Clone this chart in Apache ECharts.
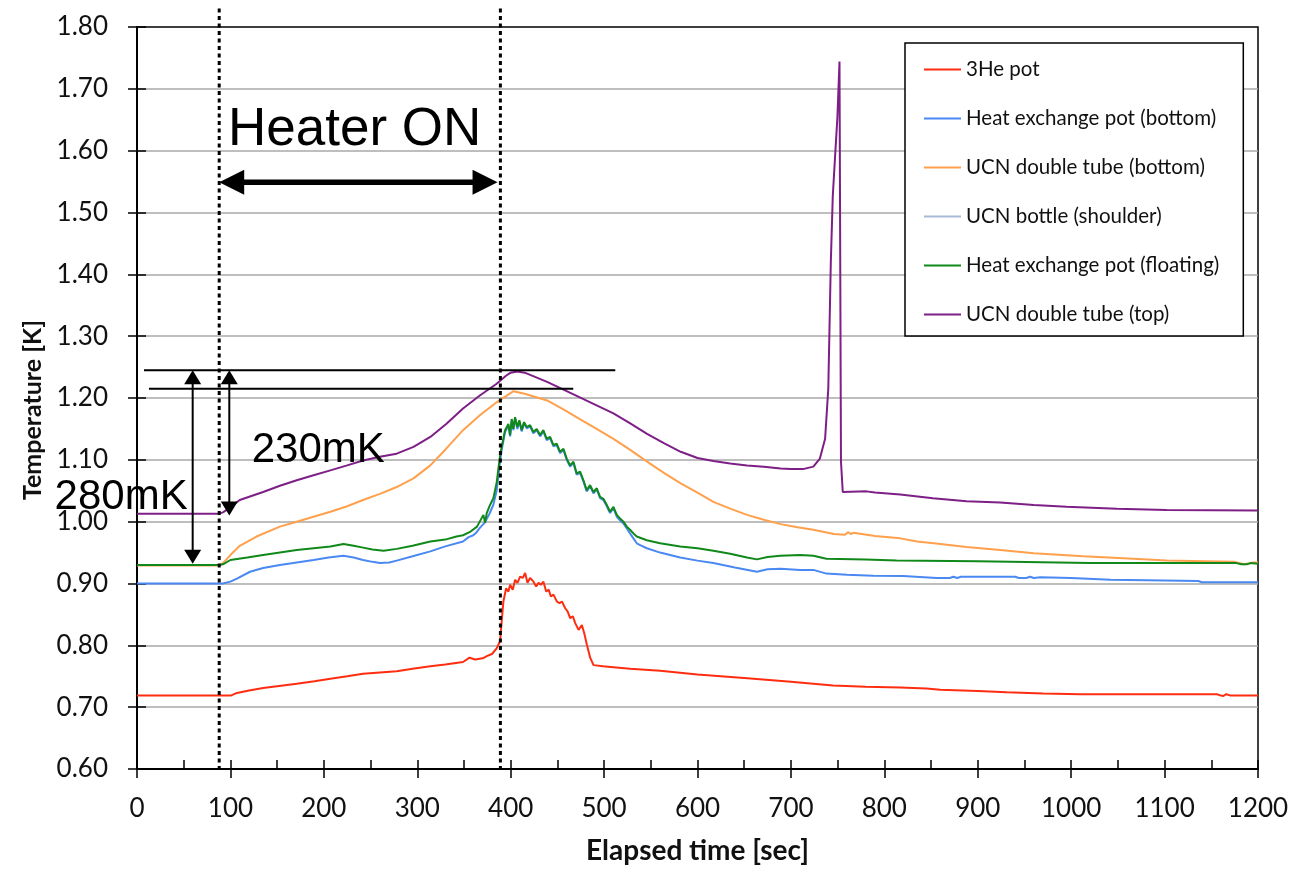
<!DOCTYPE html>
<html>
<head>
<meta charset="utf-8">
<script src="https://cdn.jsdelivr.net/npm/echarts@6/dist/echarts.min.js"></script>
<style>
  html, body { margin: 0; padding: 0; background: #fff; }
  #chart { width: 1314px; height: 870px; }
</style>
</head>
<body>
<div id="chart"></div>
<script>
// ---- Axis ranges and labels ----
const xRange = [0, 1200];
const xStep = 100;
const yRange = [0.6, 1.8];
const yStep = 0.1;
const xTitle = 'Elapsed time [sec]';
const yTitle = 'Temperature [K]';

// ---- Sensor names (legend order) ----
const seriesNames = [
  '3He pot',
  'Heat exchange pot (bottom)',
  'UCN double tube (bottom)',
  'UCN bottle (shoulder)',
  'Heat exchange pot (floating)',
  'UCN double tube (top)'
];

// ---- Temperature readings: [elapsed sec, K] ----
const he3Pot = [
  [0,0.719],[88,0.719],[101,0.719],[107,0.723],[120,0.727],[135,0.731],[150,0.734],[171,0.738],
  [190,0.742],[207,0.746],[225,0.750],[242,0.754],[260,0.756],[278,0.758],[295,0.762],[314,0.766],
  [330,0.769],[349,0.773],[356,0.780],[362,0.777],[370,0.779],[375,0.783],[380,0.786],[385,0.795],
  [388.7,0.807],[390.4,0.839],[392.2,0.871],[395.1,0.892],[397.6,0.887],[399.4,0.898],[402.2,0.890],
  [404.8,0.906],[407.3,0.901],[410.1,0.911],[413,0.909],[415.5,0.917],[418,0.901],[420.8,0.909],
  [424.4,0.903],[427.3,0.895],[429.8,0.901],[432.3,0.898],[435.1,0.903],[438,0.887],[440.8,0.890],
  [443,0.879],[445.8,0.882],[449.4,0.871],[452.3,0.868],[454.8,0.871],[458.4,0.860],[460.9,0.855],
  [463.7,0.844],[466.6,0.847],[469.1,0.836],[472.7,0.825],[476.2,0.833],[478.7,0.820],[481.6,0.801],
  [485.1,0.780],[488.7,0.768],[499,0.766],[507,0.765],[528,0.762],[560,0.759],[600,0.753],
  [650,0.747],[700,0.741],[745,0.735],[780,0.733],[817,0.732],[845,0.730],[860,0.728],[900,0.726],
  [931,0.724],[970,0.722],[1010,0.721],[1156,0.721],[1160,0.719],[1163,0.718],[1166,0.721],
  [1170,0.719],[1200,0.719]
];

const hxPotBottom = [
  [0,0.900],[88,0.900],[92,0.900],[100,0.903],[107,0.908],[121,0.919],[135,0.925],[153,0.930],
  [171,0.934],[189,0.938],[205,0.942],[221,0.945],[232,0.942],[242,0.938],[252,0.935],[260,0.933],
  [270,0.934],[278,0.937],[295,0.944],[314,0.952],[330,0.960],[349,0.968],[355,0.975],[360,0.978],
  [363,0.982],[367,0.990],[372,0.998],[377,1.012],[381.4,1.027],[385,1.050],[388.6,1.097],
  [390.4,1.116],[394,1.145],[397.6,1.155],[399.4,1.138],[401.1,1.163],[402.9,1.148],[404.7,1.167],
  [407.2,1.150],[409.3,1.162],[411.8,1.146],[414.3,1.159],[417.2,1.151],[420.8,1.154],[424.3,1.143],
  [427.9,1.148],[431.5,1.138],[435,1.146],[438.6,1.132],[442.2,1.135],[445.7,1.122],[449.3,1.124],
  [452.9,1.111],[456.5,1.116],[460,1.100],[463.6,1.089],[467.2,1.095],[470.7,1.076],[474.3,1.079],
  [477.9,1.065],[481.4,1.049],[485,1.057],[488.6,1.046],[492.2,1.052],[495.7,1.038],[499.3,1.035],
  [502.9,1.025],[506.4,1.014],[510,1.022],[513.6,1.008],[517.1,1.002],[520.7,0.997],[524.3,0.989],
  [527.8,0.981],[531.4,0.973],[535,0.965],[538.6,0.962],[545.8,0.957],[560,0.950],[581.5,0.942],
  [600,0.937],[617,0.933],[640,0.926],[663.6,0.919],[675,0.923],[688.6,0.924],[710,0.922],
  [724,0.922],[738,0.916],[760,0.914],[788,0.9125],[820,0.912],[856,0.909],[870,0.909],
  [874,0.911],[878,0.909],[882,0.911],[888,0.911],[940,0.911],[944,0.909],[952,0.909],[956,0.911],
  [960,0.909],[967,0.910],[1000,0.909],[1042,0.906],[1100,0.905],[1136,0.904],[1140,0.902],
  [1200,0.902]
];

const ucnTubeBottom = [
  [0,0.929],[88,0.929],[92,0.933],[100,0.946],[110,0.961],[128,0.976],[153,0.992],[171,1.000],
  [189,1.008],[207,1.016],[225,1.025],[242,1.035],[260,1.045],[278,1.056],[296,1.070],[314,1.091],
  [331,1.118],[349,1.148],[367,1.172],[385,1.193],[395,1.203],[403,1.211],[415,1.207],[439,1.196],
  [456,1.182],[474,1.166],[492,1.150],[510,1.134],[528,1.116],[546,1.097],[564,1.079],[582,1.062],
  [600,1.047],[617,1.032],[635,1.021],[653,1.011],[671,1.003],[689,0.996],[707,0.991],[724,0.987],
  [746,0.980],[758,0.979],[761,0.983],[764,0.980],[767,0.982],[790,0.977],[817,0.973],[835,0.968],
  [853,0.965],[888,0.959],[924,0.954],[960,0.949],[1013,0.944],[1067,0.940],[1102,0.937],
  [1144,0.936],[1175,0.935],[1185,0.931],[1195,0.934],[1200,0.934]
];

const ucnBottleShoulder = [];

const hxPotFloating = [
  [0,0.930],[88,0.930],[92,0.931],[100,0.938],[118,0.942],[135,0.946],[153,0.950],[171,0.954],
  [189,0.957],[207,0.960],[221,0.964],[232,0.961],[242,0.958],[252,0.955],[264,0.953],[278,0.956],
  [295,0.961],[314,0.968],[330,0.971],[342,0.976],[349,0.978],[356,0.983],[364,0.992],[370.8,1.011],
  [372.6,0.998],[374.4,1.014],[377.9,1.027],[381.5,1.038],[385.1,1.064],[386.9,1.086],[388.7,1.107],
  [390.4,1.121],[394,1.148],[397.6,1.158],[399.4,1.140],[401.1,1.166],[402.9,1.150],[404.7,1.169],
  [407.2,1.153],[409.3,1.164],[411.8,1.148],[414.3,1.161],[417.2,1.153],[420.8,1.156],[424.3,1.145],
  [427.9,1.150],[431.5,1.140],[435,1.148],[438.6,1.134],[442.2,1.137],[445.7,1.124],[449.3,1.126],
  [452.9,1.113],[456.5,1.118],[460,1.102],[463.6,1.091],[467.2,1.097],[470.7,1.078],[474.3,1.081],
  [477.9,1.067],[481.4,1.051],[485,1.059],[488.6,1.048],[492.2,1.054],[495.7,1.040],[499.3,1.037],
  [502.9,1.027],[506.4,1.016],[510,1.024],[513.6,1.011],[517.1,1.005],[520.7,1.000],[524.3,0.992],
  [527.8,0.987],[531.4,0.981],[535,0.976],[545.8,0.970],[560,0.965],[581.5,0.960],[600,0.957],
  [617,0.953],[635,0.948],[653,0.942],[663.6,0.939],[675,0.943],[688.6,0.945],[710,0.946],
  [724,0.945],[738,0.940],[780,0.939],[813,0.937],[900,0.936],[1020,0.933],[1177,0.933],
  [1182,0.931],[1188,0.931],[1192,0.933],[1200,0.932]
];

const ucnTubeTop = [
  [0,1.013],[88,1.013],[92,1.015],[96,1.019],[110,1.035],[135,1.048],[153,1.058],[171,1.067],
  [189,1.075],[207,1.083],[225,1.091],[242,1.099],[260,1.105],[278,1.110],[296,1.121],[314,1.137],
  [331,1.158],[349,1.183],[367,1.204],[385,1.223],[395,1.236],[400,1.241],[407,1.243],[415,1.241],
  [439,1.226],[456,1.214],[474,1.201],[492,1.188],[510,1.175],[528,1.159],[546,1.142],[564,1.127],
  [582,1.113],[600,1.103],[617,1.098],[635,1.094],[653,1.091],[671,1.089],[689,1.086],[700,1.085],
  [713,1.085],[724,1.089],[731,1.102],[736.6,1.134],[740,1.215],[742.7,1.419],[744.8,1.526],
  [747.3,1.591],[749.8,1.655],[752,1.744],[753,1.745],[753.6,1.097],[755.5,1.048],[781,1.049],
  [790,1.047],[817,1.044],[852,1.038],[888,1.033],[924,1.031],[960,1.027],[995,1.024],[1049,1.021],
  [1102,1.019],[1200,1.018]
];

const seriesData = [he3Pot, hxPotBottom, ucnTubeBottom, ucnBottleShoulder, hxPotFloating, ucnTubeTop];
const seriesColors = ['#ff2d10', '#4a88f2', '#ffa04d', '#a9bad6', '#11891a', '#7d1f86'];

// ---- Annotations (data coordinates) ----
const heaterTimes = [88, 389];              // heater switched on / off
const heaterSpan = { from: 88, to: 386, level: 1.549, text: 'Heater ON', labelAt: [233, 1.633] };
const peakLevels = [                         // horizontal reference lines
  { from: 7.5, to: 512, level: 1.245 },
  { from: 12.8, to: 467, level: 1.215 }
];
const riseArrows = [
  { at: 59.6, from: 0.932, to: 1.245, text: '280mK', labelAt: [-17, 1.039] },
  { at: 98.8, from: 1.010, to: 1.245, text: '230mK', labelAt: [194, 1.115] }
];

const tickFont = { fontFamily: 'Lato', fontSize: 26, color: '#111' };

const option = {
  animation: false,
  backgroundColor: '#fff',
  grid: {
    left: 137, right: 56, top: 27, bottom: 98,
    show: true, borderColor: '#000', borderWidth: 1.5, backgroundColor: 'transparent'
  },
  legend: {
    orient: 'vertical',
    left: 905, top: 43,
    padding: [16, 24, 11, 19],
    itemGap: 28,
    itemWidth: 37,
    itemHeight: 2,
    icon: 'rect',
    backgroundColor: '#fff',
    borderColor: '#000',
    borderWidth: 1.5,
    borderRadius: 0,
    textStyle: { fontFamily: 'Lato', fontSize: 20.5, color: '#111', lineHeight: 20 },
    data: seriesNames
  },
  xAxis: [
    {
      type: 'value', min: xRange[0], max: xRange[1], interval: xStep, position: 'bottom',
      name: xTitle, nameLocation: 'middle', nameGap: 68,
      nameTextStyle: { fontFamily: 'Lato', fontWeight: 'bold', fontSize: 28, color: '#111' },
      axisLine: { show: true, onZero: false, lineStyle: { color: '#000', width: 2 } },
      axisTick: { show: true, inside: false, length: 9, lineStyle: { color: '#000', width: 1.5 } },
      axisLabel: Object.assign({ margin: 27, formatter: v => String(v) }, tickFont),
      splitLine: { show: false }
    },
    {
      type: 'value', min: xRange[0], max: xRange[1], interval: xStep, position: 'bottom',
      axisLine: { show: false, onZero: false },
      axisTick: { show: true, inside: true, length: 9, lineStyle: { color: '#000', width: 1.5 } },
      minorTick: { show: true, splitNumber: 2, length: 9, lineStyle: { color: '#000', width: 1.5 } },
      axisLabel: { show: false },
      splitLine: { show: false }
    }
  ],
  yAxis: [
    {
      type: 'value', min: yRange[0], max: yRange[1], interval: yStep, position: 'left',
      name: yTitle, nameLocation: 'middle', nameGap: 88, nameRotate: 90,
      nameTextStyle: { fontFamily: 'Lato', fontWeight: 'bold', fontSize: 25, color: '#111', padding: [0, 24, 0, 0] },
      axisLine: { show: true, onZero: false, lineStyle: { color: '#000', width: 2 } },
      axisTick: { show: true, inside: false, length: 9, lineStyle: { color: '#000', width: 1.5 } },
      axisLabel: Object.assign({ margin: 29, formatter: v => v.toFixed(2) }, tickFont),
      splitLine: { show: true, showMinLine: false, showMaxLine: false, lineStyle: { color: '#a9a9a9', width: 1.5 } }
    },
    {
      type: 'value', min: yRange[0], max: yRange[1], interval: yStep, position: 'left',
      axisLine: { show: false, onZero: false },
      axisTick: { show: true, inside: true, length: 9, lineStyle: { color: '#000', width: 1.5 } },
      axisLabel: { show: false },
      splitLine: { show: false }
    }
  ],
  series: seriesNames.map((name, i) => ({
    name: name,
    type: 'line',
    xAxisIndex: 0,
    yAxisIndex: 0,
    data: seriesData[i],
    showSymbol: false,
    symbol: 'none',
    color: seriesColors[i],
    lineStyle: { color: seriesColors[i], width: 2 },
    emphasis: { disabled: true },
    z: 2 + i
  }))
};

const chart = echarts.init(document.getElementById('chart'), null, { renderer: 'canvas' });
chart.setOption(option);

// ---- Annotation drawing through the chart's own coordinate conversion ----
const toPx = (t, T) => chart.convertToPixel({ seriesIndex: 0 }, [t, T]);

function arrowHead(tip, dir, len, half) {
  const bx = tip[0] - dir[0] * len, by = tip[1] - dir[1] * len;
  const nx = -dir[1], ny = dir[0];
  return {
    type: 'polygon', z: 100, silent: true,
    shape: { points: [tip, [bx + nx * half, by + ny * half], [bx - nx * half, by - ny * half]] },
    style: { fill: '#000' }
  };
}

function doubleArrow(p1, p2, width, len, half) {
  const dx = p2[0] - p1[0], dy = p2[1] - p1[1];
  const d = Math.hypot(dx, dy);
  const u = [dx / d, dy / d];
  return [
    {
      type: 'line', z: 100, silent: true,
      shape: { x1: p1[0] + u[0] * len * 0.8, y1: p1[1] + u[1] * len * 0.8,
               x2: p2[0] - u[0] * len * 0.8, y2: p2[1] - u[1] * len * 0.8 },
      style: { stroke: '#000', lineWidth: width }
    },
    arrowHead(p2, u, len, half),
    arrowHead(p1, [-u[0], -u[1]], len, half)
  ];
}

function label(pos, text, size) {
  return {
    type: 'text', z: 101, silent: true, x: pos[0], y: pos[1],
    style: { text: text, fontFamily: '"Liberation Sans", Arial, sans-serif', fontSize: size,
             fill: '#000', align: 'center', verticalAlign: 'middle' }
  };
}

const graphics = [];
const yTopGuide = yRange[1] + 0.03;
heaterTimes.forEach(t => {
  const a = toPx(t, yTopGuide), b = toPx(t, yRange[0]);
  graphics.push({
    type: 'line', z: 99, silent: true,
    shape: { x1: a[0], y1: a[1], x2: b[0], y2: b[1] },
    style: { stroke: '#000', lineWidth: 3, lineDash: [4, 3.5] }
  });
});
graphics.push(...doubleArrow(toPx(heaterSpan.from, heaterSpan.level), toPx(heaterSpan.to, heaterSpan.level), 5.5, 25, 12.5));
graphics.push(label(toPx(heaterSpan.labelAt[0], heaterSpan.labelAt[1]), heaterSpan.text, 53));
peakLevels.forEach(l => {
  const a = toPx(l.from, l.level), b = toPx(l.to, l.level);
  graphics.push({
    type: 'line', z: 100, silent: true,
    shape: { x1: a[0], y1: a[1], x2: b[0], y2: b[1] },
    style: { stroke: '#000', lineWidth: 2 }
  });
});
riseArrows.forEach(r => {
  graphics.push(...doubleArrow(toPx(r.at, r.to), toPx(r.at, r.from), 2, 14, 8.5));
  graphics.push(label(toPx(r.labelAt[0], r.labelAt[1]), r.text, 42));
});

chart.setOption({ graphic: graphics });
</script>
</body>
</html>
